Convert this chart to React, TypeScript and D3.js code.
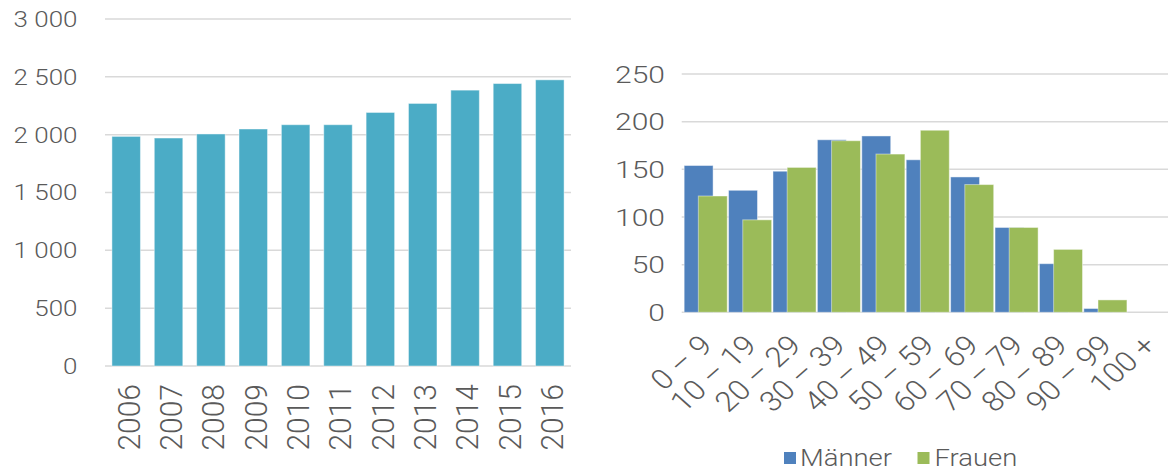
import React from 'react';
import * as d3 from 'd3';

// left chart: yearly totals
const years = ['2006', '2007', '2008', '2009', '2010', '2011', '2012', '2013', '2014', '2015', '2016'];
const totals = [1985, 1971, 2006, 2049, 2086, 2086, 2192, 2270, 2385, 2442, 2474];
const totalTicks = [0, 500, 1000, 1500, 2000, 2500, 3000];

// right chart: age groups by sex
const ageGroups = ['0 – 9', '10 – 19', '20 – 29', '30 – 39', '40 – 49', '50 – 59', '60 – 69', '70 – 79', '80 – 89', '90 – 99', '100 +'];
const maenner = [154, 128, 148, 181, 185, 160, 142, 89, 51, 4, 0];
const frauen = [122, 97, 152, 180, 166, 191, 134, 89, 66, 13, 0];
const ageTicks = [0, 50, 100, 150, 200, 250];

const seriesNames = ['Männer', 'Frauen'];
const seriesColors = ['#4F81BD', '#9BBB59'];

const W = 1168;
const H = 473;
const FONT = 'Roboto, "Liberation Sans", Arial, sans-serif';
const TEXT = '#5a5a5a';
const GRID = '#d9d9d9';

const fmt = d3.formatLocale({ decimal: ',', thousands: ' ', grouping: [3], currency: ['', ''] }).format(',d');

export default function App() {
  // left chart scales
  const xL = d3.scaleBand<string>().domain(years).range([105, 571]).paddingInner(0.327).paddingOuter(0.1635);
  const yL = d3.scaleLinear().domain([0, 3000]).range([366, 19]);

  // right chart scales
  const xR = d3.scaleBand<string>().domain(ageGroups).range([683.5, 1172]).paddingInner(0.03).paddingOuter(0.015);
  const yR = d3.scaleLinear().domain([0, 250]).range([312.3, 74]);
  const overlap = 0.51;
  const barW = xR.bandwidth() / (2 - overlap);
  const barOff = barW * (1 - overlap);
  const series = [maenner, frauen];

  return (
    <svg width={W} height={H} style={{ position: 'absolute', left: 0, top: 0, display: 'block' }} fontFamily={FONT} fontWeight={300}>
      <rect width={W} height={H} fill="#fff" />

      {/* left chart */}
      <g>
        {totalTicks.map((t) => (
          <line key={t} x1={105} x2={571} y1={yL(t)} y2={yL(t)} stroke={GRID} strokeWidth={1.5} />
        ))}
        {totalTicks.map((t) => (
          <text key={t} transform={`translate(77.5,${yL(t)}) scale(1.18,1)`} dy="0.36em" textAnchor="end" fontSize={22} fill={TEXT}>
            {fmt(t)}
          </text>
        ))}
        {years.map((yr, i) => (
          <rect
            key={yr}
            x={xL(yr)}
            y={yL(totals[i])}
            width={xL.bandwidth()}
            height={yL(0) - yL(totals[i])}
            fill="#4BACC6"
            stroke="rgba(255,255,255,0.45)"
            strokeWidth={1}
          />
        ))}
        {years.map((yr) => (
          <text
            key={yr}
            transform={`translate(${(xL(yr) as number) + xL.bandwidth() / 2 + 2},384) scale(1.05,1) rotate(-90)`}
            dy="0.36em"
            textAnchor="end"
            fontSize={30}
            fill={TEXT}
          >
            {yr}
          </text>
        ))}
      </g>

      {/* right chart */}
      <g>
        {ageTicks.map((t) => (
          <line key={t} x1={681.7} x2={W} y1={yR(t)} y2={yR(t)} stroke={GRID} strokeWidth={1.5} />
        ))}
        {ageTicks.map((t) => (
          <text key={t} transform={`translate(665,${yR(t)}) scale(1.25,1)`} dy="0.36em" textAnchor="end" fontSize={24} fill={TEXT}>
            {fmt(t)}
          </text>
        ))}
        {series.map((vals, s) => (
          <g key={s}>
            {ageGroups.map((g, i) =>
              vals[i] > 0 ? (
                <rect
                  key={g}
                  x={(xR(g) as number) + s * barOff}
                  y={yR(vals[i])}
                  width={barW}
                  height={yR(0) - yR(vals[i])}
                  fill={seriesColors[s]}
                  stroke="rgba(255,255,255,0.45)"
                  strokeWidth={1}
                />
              ) : null
            )}
          </g>
        ))}
        {ageGroups.map((g) => (
          <text
            key={g}
            transform={`translate(${(xR(g) as number) + xR.bandwidth() / 2 + 8},347) scale(1.12,1) rotate(-45)`}
            textAnchor="end"
            fontSize={28}
            fill={TEXT}
          >
            {g}
          </text>
        ))}

        {/* legend */}
        <g>
          <rect x={784} y={452} width={12} height={12} fill={seriesColors[0]} />
          <text transform="translate(800,466) scale(1.12,1)" fontSize={24.5} fill={TEXT}>
            {seriesNames[0]}
          </text>
          <rect x={917.5} y={452} width={12} height={12} fill={seriesColors[1]} />
          <text transform="translate(934.5,466) scale(1.12,1)" fontSize={24.5} fill={TEXT}>
            {seriesNames[1]}
          </text>
        </g>
      </g>
    </svg>
  );
}
